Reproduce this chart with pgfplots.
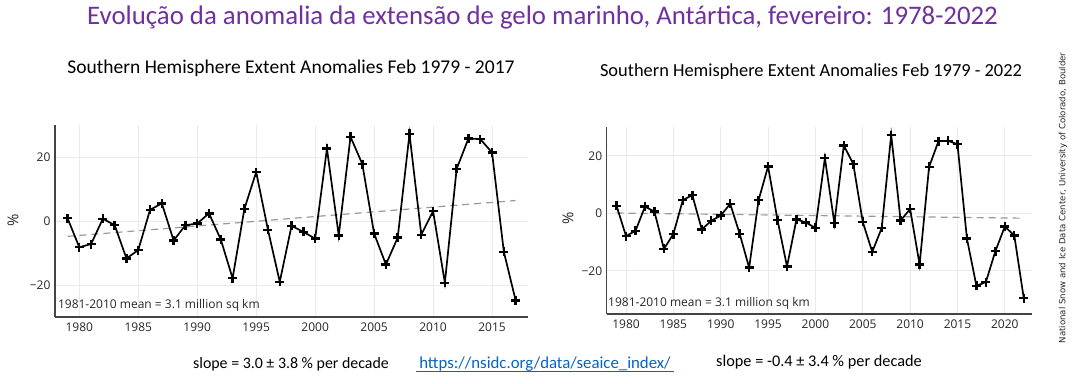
\documentclass[border=0pt]{standalone}
\usepackage{pgfplots}
\pgfplotsset{compat=1.18}
\usepackage{fontspec}
\setmainfont{Carlito}
\newfontfamily\osans{Open Sans}
\newfontfamily\dsans{DejaVu Sans}
\definecolor{ttl}{HTML}{7030A0}
\definecolor{urlc}{HTML}{0563C1}
\definecolor{gridc}{HTML}{EBEBEB}
\definecolor{spine}{HTML}{444444}
\definecolor{trend}{HTML}{999999}

\pgfplotsset{
 nsidc/.style={
  scale only axis, anchor=south west,
  axis x line*=bottom, axis y line*=left,
  axis line style={spine, line width=1.3pt, -},
  major tick length=0pt,
  grid=major, major grid style={gridc, line width=0.8pt},
  ytick={-20,0,20}, yticklabels={−20,0,20},
  tick label style={font=\osans\fontsize{12}{14}\selectfont, text=black!85},
  yticklabel style={xshift=-1pt},
  xticklabel style={yshift=-2pt},
  ylabel={\%},
  clip=false,
 },
 dataline/.style={black, line width=1.7pt, mark=+, mark size=4.5pt, mark options={line width=2.4pt}},
 trendline/.style={trend, line width=1.2pt, dash pattern=on 7pt off 5pt},
}

\begin{document}
\begin{tikzpicture}
\path[use as bounding box] (0,0) rectangle (1075pt,383pt);

% Left chart
\begin{axis}[nsidc,
  at={(55pt,66pt)}, width=473pt, height=192pt,
  xmin=1977.94, xmax=2018.05, ymin=-30, ymax=30,
  xtick={1980,1985,1990,1995,2000,2005,2010,2015},
  xticklabels={1980,1985,1990,1995,2000,2005,2010,2015},
  every axis y label/.style={at={(axis description cs:-0.089,0.505)}, rotate=90, anchor=center,
    font=\osans\fontsize{15}{16}\selectfont, text=black!85},
]
\addplot[trendline] coordinates {(1979,-4.8) (2017,6.4)};
\addplot[dataline] coordinates {
(1979,0.9) (1980,-8.2) (1981,-7.2) (1982,0.7) (1983,-1.3) (1984,-11.7) (1985,-9.1)
(1986,3.5) (1987,5.5) (1988,-6.1) (1989,-1.3) (1990,-0.8) (1991,2.4) (1992,-5.8)
(1993,-17.9) (1994,3.8) (1995,15.3) (1996,-2.8) (1997,-19.0) (1998,-1.5) (1999,-3.4)
(2000,-5.5) (2001,22.6) (2002,-4.5) (2003,26.3) (2004,17.8) (2005,-3.9) (2006,-13.6)
(2007,-5.2) (2008,27.2) (2009,-4.3) (2010,3.1) (2011,-19.3) (2012,16.3) (2013,25.8)
(2014,25.6) (2015,21.4) (2016,-9.6) (2017,-24.8)};
\node[anchor=west, font=\osans\fontsize{12}{14}\selectfont, text=black!85, inner sep=0pt]
  at (axis description cs:0.006,0.0625) {1981-2010 mean = 3.1 million sq km};
\end{axis}

% Right chart
\begin{axis}[nsidc,
  at={(606.7pt,69pt)}, width=425pt, height=187pt,
  xmin=1977.96, xmax=2022.84, ymin=-35, ymax=30,
  xtick={1980,1985,1990,1995,2000,2005,2010,2015,2020},
  xticklabels={1980,1985,1990,1995,2000,2005,2010,2015,2020},
  every axis y label/.style={at={(axis description cs:-0.091,0.513)}, rotate=90, anchor=center,
    font=\osans\fontsize{15}{16}\selectfont, text=black!85},
]
\addplot[trendline] coordinates {(1979,0.1) (2022,-1.7)};
\addplot[dataline] coordinates {
(1979,2.6) (1980,-7.9) (1981,-6.1) (1982,2.3) (1983,0.6) (1984,-12.4) (1985,-7.2)
(1986,4.6) (1987,6.3) (1988,-5.6) (1989,-2.6) (1990,-0.8) (1991,3.3) (1992,-7.1)
(1993,-18.9) (1994,4.6) (1995,16.3) (1996,-2.4) (1997,-18.5) (1998,-2.1) (1999,-3.2)
(2000,-5.1) (2001,19.2) (2002,-3.4) (2003,23.6) (2004,17.1) (2005,-3.0) (2006,-13.4)
(2007,-5.1) (2008,27.2) (2009,-2.5) (2010,1.5) (2011,-17.8) (2012,16.1) (2013,25.1)
(2014,25.2) (2015,24.0) (2016,-8.8) (2017,-25.2) (2018,-23.9) (2019,-13.2) (2020,-4.6)
(2021,-7.7) (2022,-29.5)};
\node[anchor=west, font=\osans\fontsize{12}{14}\selectfont, text=black!85, inner sep=0pt]
  at (axis description cs:0.003,0.059) {1981-2010 mean = 3.1 million sq km};
\end{axis}

% Titles and texts
\node[font=\fontsize{26.8}{30}\selectfont, text=ttl, anchor=base, inner sep=0pt] at (542.5pt,358pt)
  {Evolução da anomalia da extensão de gelo marinho, Antártica, fevereiro: 1978-2022};
\node[font=\fontsize{19.5}{22}\selectfont] at (291pt,315pt)
  {Southern Hemisphere Extent Anomalies Feb 1979 - 2017};
\node[font=\fontsize{18.4}{21}\selectfont] at (811pt,311pt)
  {Southern Hemisphere Extent Anomalies Feb 1979 - 2022};
\node[font=\fontsize{15.9}{17}\selectfont] at (291pt,19pt)
  {slope = 3.0 ± 3.8 \% per decade};
\node[font=\fontsize{16.8}{18}\selectfont, text=urlc] (u) at (545pt,19pt)
  {https://nsidc.org/data/seaice\_index/};
\draw[urlc, line width=0.7pt] ([yshift=-2.5pt]u.base west) -- ([yshift=-2.5pt]u.base east);
\node[font=\fontsize{16.3}{18}\selectfont] at (819pt,21pt)
  {slope = -0.4 ± 3.4 \% per decade};
\node[rotate=90, font=\dsans\fontsize{8.6}{10}\selectfont, text=black!85] at (1063pt,185pt)
  {National Snow and Ice Data Center, University of Colorado, Boulder};
\end{tikzpicture}
\end{document}
